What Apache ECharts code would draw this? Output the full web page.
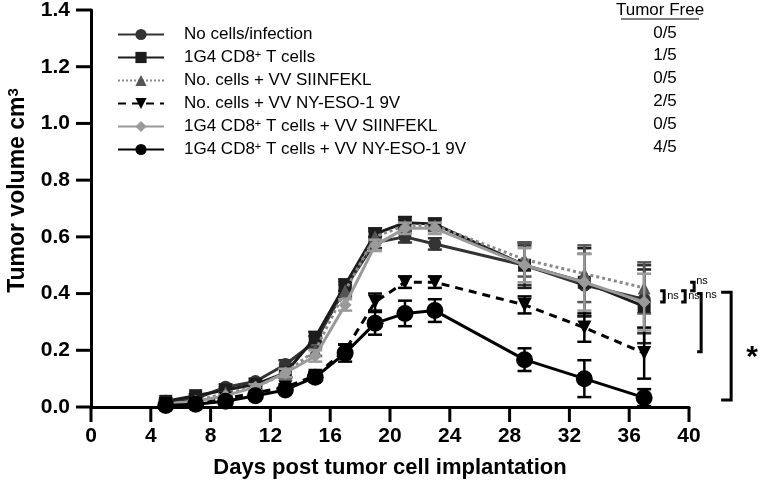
<!DOCTYPE html>
<html>
<head>
<meta charset="utf-8">
<script src="https://cdn.jsdelivr.net/npm/echarts@6/dist/echarts.min.js"></script>
<style>html,body{margin:0;padding:0;background:#fff}#c{width:762px;height:493px}</style>
</head>
<body>
<div id="c"></div>
<script>
const days = [5, 7, 9, 11, 13, 15, 17, 19, 21, 23, 29, 33, 37];
const seriesNames = [
  'No cells/infection',
  '1G4 CD8+ T cells',
  'No. cells + VV SIINFEKL',
  'No. cells + VV NY-ESO-1 9V',
  '1G4 CD8+ T cells + VV SIINFEKL',
  '1G4 CD8+ T cells + VV NY-ESO-1 9V'
];
const tumorFree = ['0/5', '1/5', '0/5', '2/5', '0/5', '4/5'];
const noCells   = [0.02, 0.03, 0.07, 0.09, 0.15, 0.23, 0.42, 0.58, 0.60, 0.575, 0.50, 0.43, 0.38];
const tCells    = [0.02, 0.04, 0.06, 0.08, 0.12, 0.245, 0.43, 0.61, 0.65, 0.645, 0.50, 0.44, 0.355];
const siinfekl  = [0.01, 0.02, 0.05, 0.07, 0.12, 0.20, 0.41, 0.60, 0.64, 0.64, 0.52, 0.47, 0.42];
const nyeso     = [0.01, 0.01, 0.03, 0.05, 0.07, 0.11, 0.20, 0.37, 0.44, 0.44, 0.36, 0.28, 0.19];
const tSiinfekl = [0.01, 0.02, 0.04, 0.07, 0.12, 0.18, 0.36, 0.57, 0.63, 0.63, 0.50, 0.44, 0.37];
const tNyeso    = [0.005, 0.01, 0.02, 0.04, 0.06, 0.105, 0.19, 0.295, 0.33, 0.34, 0.167, 0.10, 0.033];
const noCellsErr   = [0.005, 0.005, 0.01, 0.01, 0.015, 0.02, 0.02, 0.02, 0.02, 0.02, 0.07, 0.11, 0.12];
const tCellsErr    = [0.005, 0.005, 0.01, 0.01, 0.015, 0.02, 0.02, 0.02, 0.02, 0.02, 0.08, 0.12, 0.13];
const siinfeklErr  = [0.005, 0.005, 0.01, 0.01, 0.015, 0.02, 0.02, 0.02, 0.02, 0.02, 0.06, 0.10, 0.09];
const nyesoErr     = [0, 0, 0.005, 0.01, 0.01, 0.015, 0.02, 0.03, 0.02, 0.02, 0.03, 0.05, 0.09];
const tSiinfeklErr = [0.005, 0.005, 0.01, 0.01, 0.015, 0.02, 0.02, 0.02, 0.02, 0.02, 0.06, 0.10, 0.10];
const tNyesoErr    = [0, 0, 0.005, 0.01, 0.01, 0.015, 0.03, 0.04, 0.045, 0.04, 0.04, 0.065, 0.03];
const xTicks = [0, 4, 8, 12, 16, 20, 24, 28, 32, 36, 40];
const yTicks = [0.0, 0.2, 0.4, 0.6, 0.8, 1.0, 1.2, 1.4];

const values = [noCells, tCells, siinfekl, nyeso, tSiinfekl, tNyeso];
const errs = [noCellsErr, tCellsErr, siinfeklErr, nyesoErr, tSiinfeklErr, tNyesoErr];
const styles = [
  {color: '#333333', line: '#333333', type: 'solid', symbol: 'circle', size: 13},
  {color: '#1c1c1c', line: '#1c1c1c', type: 'solid', symbol: 'rect', size: 13},
  {color: '#555555', line: '#8a8a8a', type: 'dotted', symbol: 'triangle', size: 13},
  {color: '#000000', line: '#000000', type: [8, 6], symbol: 'path://M0,0 L10,0 L5,10 Z', size: 14},
  {color: '#9a9a9a', line: '#9a9a9a', type: 'solid', symbol: 'diamond', size: 13},
  {color: '#000000', line: '#000000', type: 'solid', symbol: 'circle', size: 17}
];
const FONT = '"Liberation Sans", Arial, sans-serif';
const TICK = 15;

const chart = echarts.init(document.getElementById('c'));
const series = [];
values.forEach((vals, i) => {
  const st = styles[i];
  series.push({
    type: 'custom',
    name: seriesNames[i] + '_err',
    z: 2 + i,
    silent: true,
    data: days.map((d, k) => [d, vals[k] - errs[i][k], vals[k] + errs[i][k]]),
    renderItem: function (params, api) {
      const lo = api.coord([api.value(0), api.value(1)]);
      const hi = api.coord([api.value(0), api.value(2)]);
      const w = 7;
      const s = {stroke: st.color, lineWidth: 2.5, fill: null};
      return {type: 'group', children: [
        {type: 'line', shape: {x1: lo[0], y1: lo[1], x2: hi[0], y2: hi[1]}, style: s},
        {type: 'line', shape: {x1: lo[0] - w, y1: lo[1], x2: lo[0] + w, y2: lo[1]}, style: s},
        {type: 'line', shape: {x1: hi[0] - w, y1: hi[1], x2: hi[0] + w, y2: hi[1]}, style: s}
      ]};
    }
  });
  series.push({
    type: 'line',
    name: seriesNames[i],
    z: 3 + i,
    data: days.map((d, k) => [d, vals[k]]),
    symbol: st.symbol,
    symbolSize: st.size,
    showAllSymbol: true,
    itemStyle: {color: st.color, opacity: 1},
    lineStyle: {color: st.line, width: 3, type: st.type},
    emphasis: {disabled: true},
    animation: false
  });
});

const richSup = {sup: {fontSize: 11, verticalAlign: 'top', lineHeight: 10, fontFamily: FONT, color: '#000'}};

chart.setOption({
  animation: false,
  grid: {left: 91, right: 73, top: 10, bottom: 86, containLabel: false, outerBoundsMode: 'none'},
  legend: {
    data: seriesNames,
    orient: 'vertical',
    left: 112,
    top: 21,
    itemWidth: 46,
    itemHeight: 14,
    itemGap: 6,
    formatter: n => n.replace('CD8+', 'CD8{sup|+}'),
    textStyle: {fontFamily: FONT, fontSize: 17, color: '#000', lineHeight: 17, padding: [0, 0, 0, 15], rich: richSup},
    selectedMode: false
  },
  xAxis: {
    type: 'value', min: 0, max: 40, interval: 4,
    name: 'Days post tumor cell implantation',
    nameLocation: 'middle', nameGap: 50,
    nameTextStyle: {fontFamily: FONT, fontSize: 22, fontWeight: 'bold', color: '#000'},
    axisLine: {show: true, onZero: false, lineStyle: {color: '#000', width: 3}},
    axisTick: {show: false},
    axisLabel: {fontFamily: FONT, fontSize: 21, fontWeight: 'bold', color: '#000', margin: 19,
      formatter: v => xTicks.includes(v) ? String(v) : ''},
    splitLine: {show: false}
  },
  yAxis: {
    type: 'value', min: 0, max: 1.4, interval: 0.2,
    name: 'Tumor volume cm{s|3}',
    nameLocation: 'middle', nameGap: 62, nameRotate: 90,
    nameTextStyle: {fontFamily: FONT, fontSize: 23, fontWeight: 'bold', color: '#000', padding: [0, 0, 0, 36],
      rich: {s: {fontSize: 15, fontWeight: 'bold', verticalAlign: 'top', lineHeight: 12, fontFamily: FONT, color: '#000'}}},
    axisLine: {show: true, lineStyle: {color: '#000', width: 3}},
    axisTick: {show: false},
    axisLabel: {fontFamily: FONT, fontSize: 21, fontWeight: 'bold', color: '#000', margin: 21,
      formatter: v => yTicks.find(t => Math.abs(t - v) < 1e-9) !== undefined ? v.toFixed(1) : ''},
    splitLine: {show: false}
  },
  series: series
});

// Tick marks, tumor-free column and significance brackets
const P = (x, y) => chart.convertToPixel({xAxisIndex: 0, yAxisIndex: 0}, [x, y]);
const g = [];
xTicks.forEach(t => {
  const p = P(t, 0);
  g.push({type: 'line', shape: {x1: p[0], y1: p[1], x2: p[0], y2: p[1] + TICK}, style: {stroke: '#000', lineWidth: 3}});
});
yTicks.forEach(v => {
  const p = P(0, v);
  g.push({type: 'line', shape: {x1: p[0] - TICK, y1: p[1], x2: p[0], y2: p[1]}, style: {stroke: '#000', lineWidth: 3}});
});
const colX = 660;
g.push({type: 'text', style: {x: colX, y: 10, text: 'Tumor Free', font: '17px ' + FONT, fill: '#000', align: 'center', verticalAlign: 'middle'}});
g.push({type: 'line', shape: {x1: colX - 39, y1: 19, x2: colX + 39, y2: 19}, style: {stroke: '#000', lineWidth: 1}});
tumorFree.forEach((t, i) => {
  g.push({type: 'text', style: {x: colX + 5, y: 33 + i * 22.8, text: t, font: '17px ' + FONT, fill: '#000', align: 'center', verticalAlign: 'middle'}});
});
const xLast = P(37, 0)[0];
function bracket(x, v1, v2, w) {
  const a = P(37, v1)[1], b = P(37, v2)[1];
  return {type: 'polyline', shape: {points: [[x, a], [x + w, a], [x + w, b], [x, b]]}, style: {stroke: '#000', lineWidth: 3, fill: null}};
}
function label(x, v, text, size, bold, dy) {
  return {type: 'text', style: {x: x, y: P(37, v)[1] + (dy || 0), text: text, font: (bold ? 'bold ' : '') + size + 'px ' + FONT, fill: '#000', align: 'left', verticalAlign: 'middle'}};
}
g.push(bracket(xLast + 16, 0.41, 0.37, 4));
g.push(label(xLast + 23, 0.39, 'ns', 11, false));
g.push(bracket(xLast + 37, 0.41, 0.37, 4));
g.push(label(xLast + 44, 0.39, 'ns', 11, false));
g.push(bracket(xLast + 46, 0.44, 0.41, 4));
g.push(label(xLast + 52, 0.445, 'ns', 11, false));
g.push(bracket(xLast + 53, 0.40, 0.195, 4));
g.push(label(xLast + 61, 0.395, 'ns', 11, false));
g.push(bracket(xLast + 77, 0.405, 0.025, 10));
g.push(label(xLast + 102, 0.195, '*', 30, true, 6));
chart.setOption({graphic: g});
</script>
</body>
</html>
